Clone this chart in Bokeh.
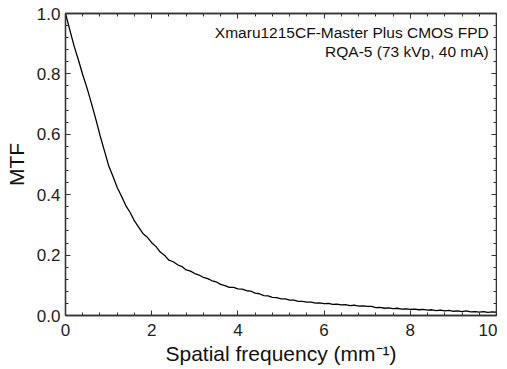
from bokeh.plotting import figure
from bokeh.models import LinearAxis, Range1d, FixedTicker, Label, PrintfTickFormatter, CustomJSTickFormatter
from bokeh.embed import file_html
from bokeh.resources import INLINE

freq = [0.0, 0.1, 0.2, 0.3, 0.4, 0.5, 0.6, 0.7, 0.8, 0.9,
        1.0, 1.1, 1.2, 1.3, 1.4, 1.5, 1.6, 1.7, 1.8, 1.9,
        2.0, 2.1, 2.2, 2.3, 2.4, 2.5, 2.6, 2.7, 2.8, 2.9,
        3.0, 3.1, 3.2, 3.3, 3.4, 3.5, 3.6, 3.7, 3.8, 3.9,
        4.0, 4.1, 4.2, 4.3, 4.4, 4.5, 4.6, 4.7, 4.8, 4.9,
        5.0, 5.1, 5.2, 5.3, 5.4, 5.5, 5.6, 5.7, 5.8, 5.9,
        6.0, 6.1, 6.2, 6.3, 6.4, 6.5, 6.6, 6.7, 6.8, 6.9,
        7.0, 7.1, 7.2, 7.3, 7.4, 7.5, 7.6, 7.7, 7.8, 7.9,
        8.0, 8.1, 8.2, 8.3, 8.4, 8.5, 8.6, 8.7, 8.8, 8.9,
        9.0, 9.1, 9.2, 9.3, 9.4, 9.5, 9.6, 9.7, 9.8, 9.9, 10.0]
mtf = [1.000, 0.946, 0.892, 0.846, 0.797, 0.753, 0.703, 0.652, 0.597, 0.547,
       0.497, 0.461, 0.424, 0.395, 0.364, 0.341, 0.313, 0.292, 0.271, 0.259,
       0.241, 0.228, 0.210, 0.199, 0.183, 0.178, 0.168, 0.162, 0.151, 0.147,
       0.139, 0.134, 0.126, 0.122, 0.115, 0.111, 0.103, 0.099, 0.093, 0.093,
       0.088, 0.087, 0.082, 0.081, 0.074, 0.072, 0.066, 0.065, 0.060, 0.059,
       0.055, 0.055, 0.051, 0.051, 0.047, 0.047, 0.044, 0.044, 0.041, 0.042,
       0.039, 0.040, 0.037, 0.038, 0.035, 0.036, 0.033, 0.034, 0.031, 0.032,
       0.030, 0.030, 0.026, 0.027, 0.024, 0.025, 0.023, 0.024, 0.021, 0.022,
       0.020, 0.021, 0.019, 0.020, 0.018, 0.019, 0.016, 0.018, 0.015, 0.017,
       0.014, 0.015, 0.013, 0.015, 0.012, 0.013, 0.011, 0.013, 0.010, 0.012, 0.011]

x_ticks = [0, 2, 4, 6, 8, 10]
y_ticks = [0.0, 0.2, 0.4, 0.6, 0.8, 1.0]
x_minor = [0.4 * i for i in range(26)]
y_minor = [0.04 * i for i in range(26)]
note_lines = ["Xmaru1215CF-Master Plus CMOS FPD", "RQA-5 (73 kVp, 40 mA)"]

FONT = "Liberation Sans"
AX = "#333333"

p = figure(output_backend="svg", toolbar_location=None,
           frame_width=431, frame_height=302,
           min_border_left=65, min_border_right=1, min_border_top=13, min_border_bottom=45,
           x_range=Range1d(0, 10), y_range=Range1d(0, 1),
           x_axis_label="Spatial frequency (mm⁻¹)", y_axis_label="MTF")
p.background_fill_color = "white"
p.border_fill_color = "white"
p.grid.visible = False
p.outline_line_color = AX
p.outline_line_width = 1.3

p.line(freq, mtf, line_color="black", line_width=1.3)

def style(ax, ticks, minor, labels=True):
    ax.ticker = FixedTicker(ticks=ticks, minor_ticks=minor)
    ax.major_tick_in = 5
    ax.major_tick_out = 0
    ax.minor_tick_in = 3
    ax.minor_tick_out = 0
    ax.major_tick_line_color = AX
    ax.minor_tick_line_color = AX
    ax.axis_line_color = AX
    ax.axis_line_width = 1.3
    if labels:
        ax.major_label_text_font = FONT
        ax.major_label_text_font_size = "17px"
        ax.major_label_text_color = "#222222"
        ax.axis_label_text_font = FONT
        ax.axis_label_text_font_style = "normal"
        ax.axis_label_text_font_size = "21px"
        ax.axis_label_text_color = "#111111"
    else:
        ax.formatter = CustomJSTickFormatter(code="return ''")
        ax.major_label_standoff = 0

style(p.xaxis[0], x_ticks, x_minor)
style(p.yaxis[0], y_ticks, y_minor)
p.xaxis[0].major_label_standoff = 8
p.xaxis[0].axis_label_standoff = 3
p.yaxis[0].major_label_standoff = 5
p.yaxis[0].axis_label_standoff = 6
p.yaxis[0].formatter = PrintfTickFormatter(format="%.1f")

top = LinearAxis()
style(top, x_ticks, x_minor, labels=False)
p.add_layout(top, "above")
right = LinearAxis()
style(right, y_ticks, y_minor, labels=False)
p.add_layout(right, "right")

for i, t in enumerate(note_lines):
    p.add_layout(Label(x=9.82, y=0.938 - 0.063 * i, text=t, text_align="right",
                       text_baseline="middle", text_font=FONT,
                       text_font_size="15.5px", text_color="#111111"))

open("out.html", "w").write(file_html(p, INLINE))
